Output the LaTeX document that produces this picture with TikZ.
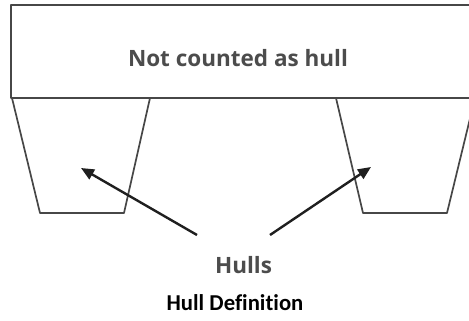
\documentclass[tikz,border=0pt]{standalone}
\usepackage{fontspec}
\setmainfont{Carlito}[Ligatures=NoCommon]
\newfontfamily\labelfont{Open Sans}
\usetikzlibrary{positioning, arrows.meta}

\begin{document}
\begin{tikzpicture}[x=1pt, y=-1pt,
    outline/.style={draw=black!72, line width=1.7pt, line join=round},
    pointer/.style={-{Triangle[length=13pt, width=11pt]}, line width=2.4pt, draw=black!88},
    caption/.style={font=\labelfont\bfseries\fontsize{22.5}{26}\selectfont, text=black!70, inner sep=0pt}]
	\useasboundingbox (0,0) rectangle (469,321);
	\clip (0,0) rectangle (469,321);

	% deck and the two hulls
	\draw[outline] (11,5) rectangle (485,98);
	\draw[outline] (12,98) -- (40,213) -- (124,213) -- (150,98);
	\draw[outline] (336,98) -- (363,213) -- (447,213) -- (475,98);

	\node[caption, anchor=base] (deck) at (238,67) {Not counted as hull};
	\node[caption, anchor=base] (hulls) at (243.5,273) {Hulls};
	\node[font=\bfseries\fontsize{22.7}{26}\selectfont, inner sep=0pt, anchor=base] (title) at (235,310) {Hull Definition};

	\coordinate (ltail) at (197,235);
	\coordinate (lhead) at (81,168);
	\coordinate (rtail) at (270,235);
	\coordinate (rhead) at (371,167);

	\draw[pointer] (ltail) -- (lhead);
	\draw[pointer] (rtail) -- (rhead);
\end{tikzpicture}
\end{document}
